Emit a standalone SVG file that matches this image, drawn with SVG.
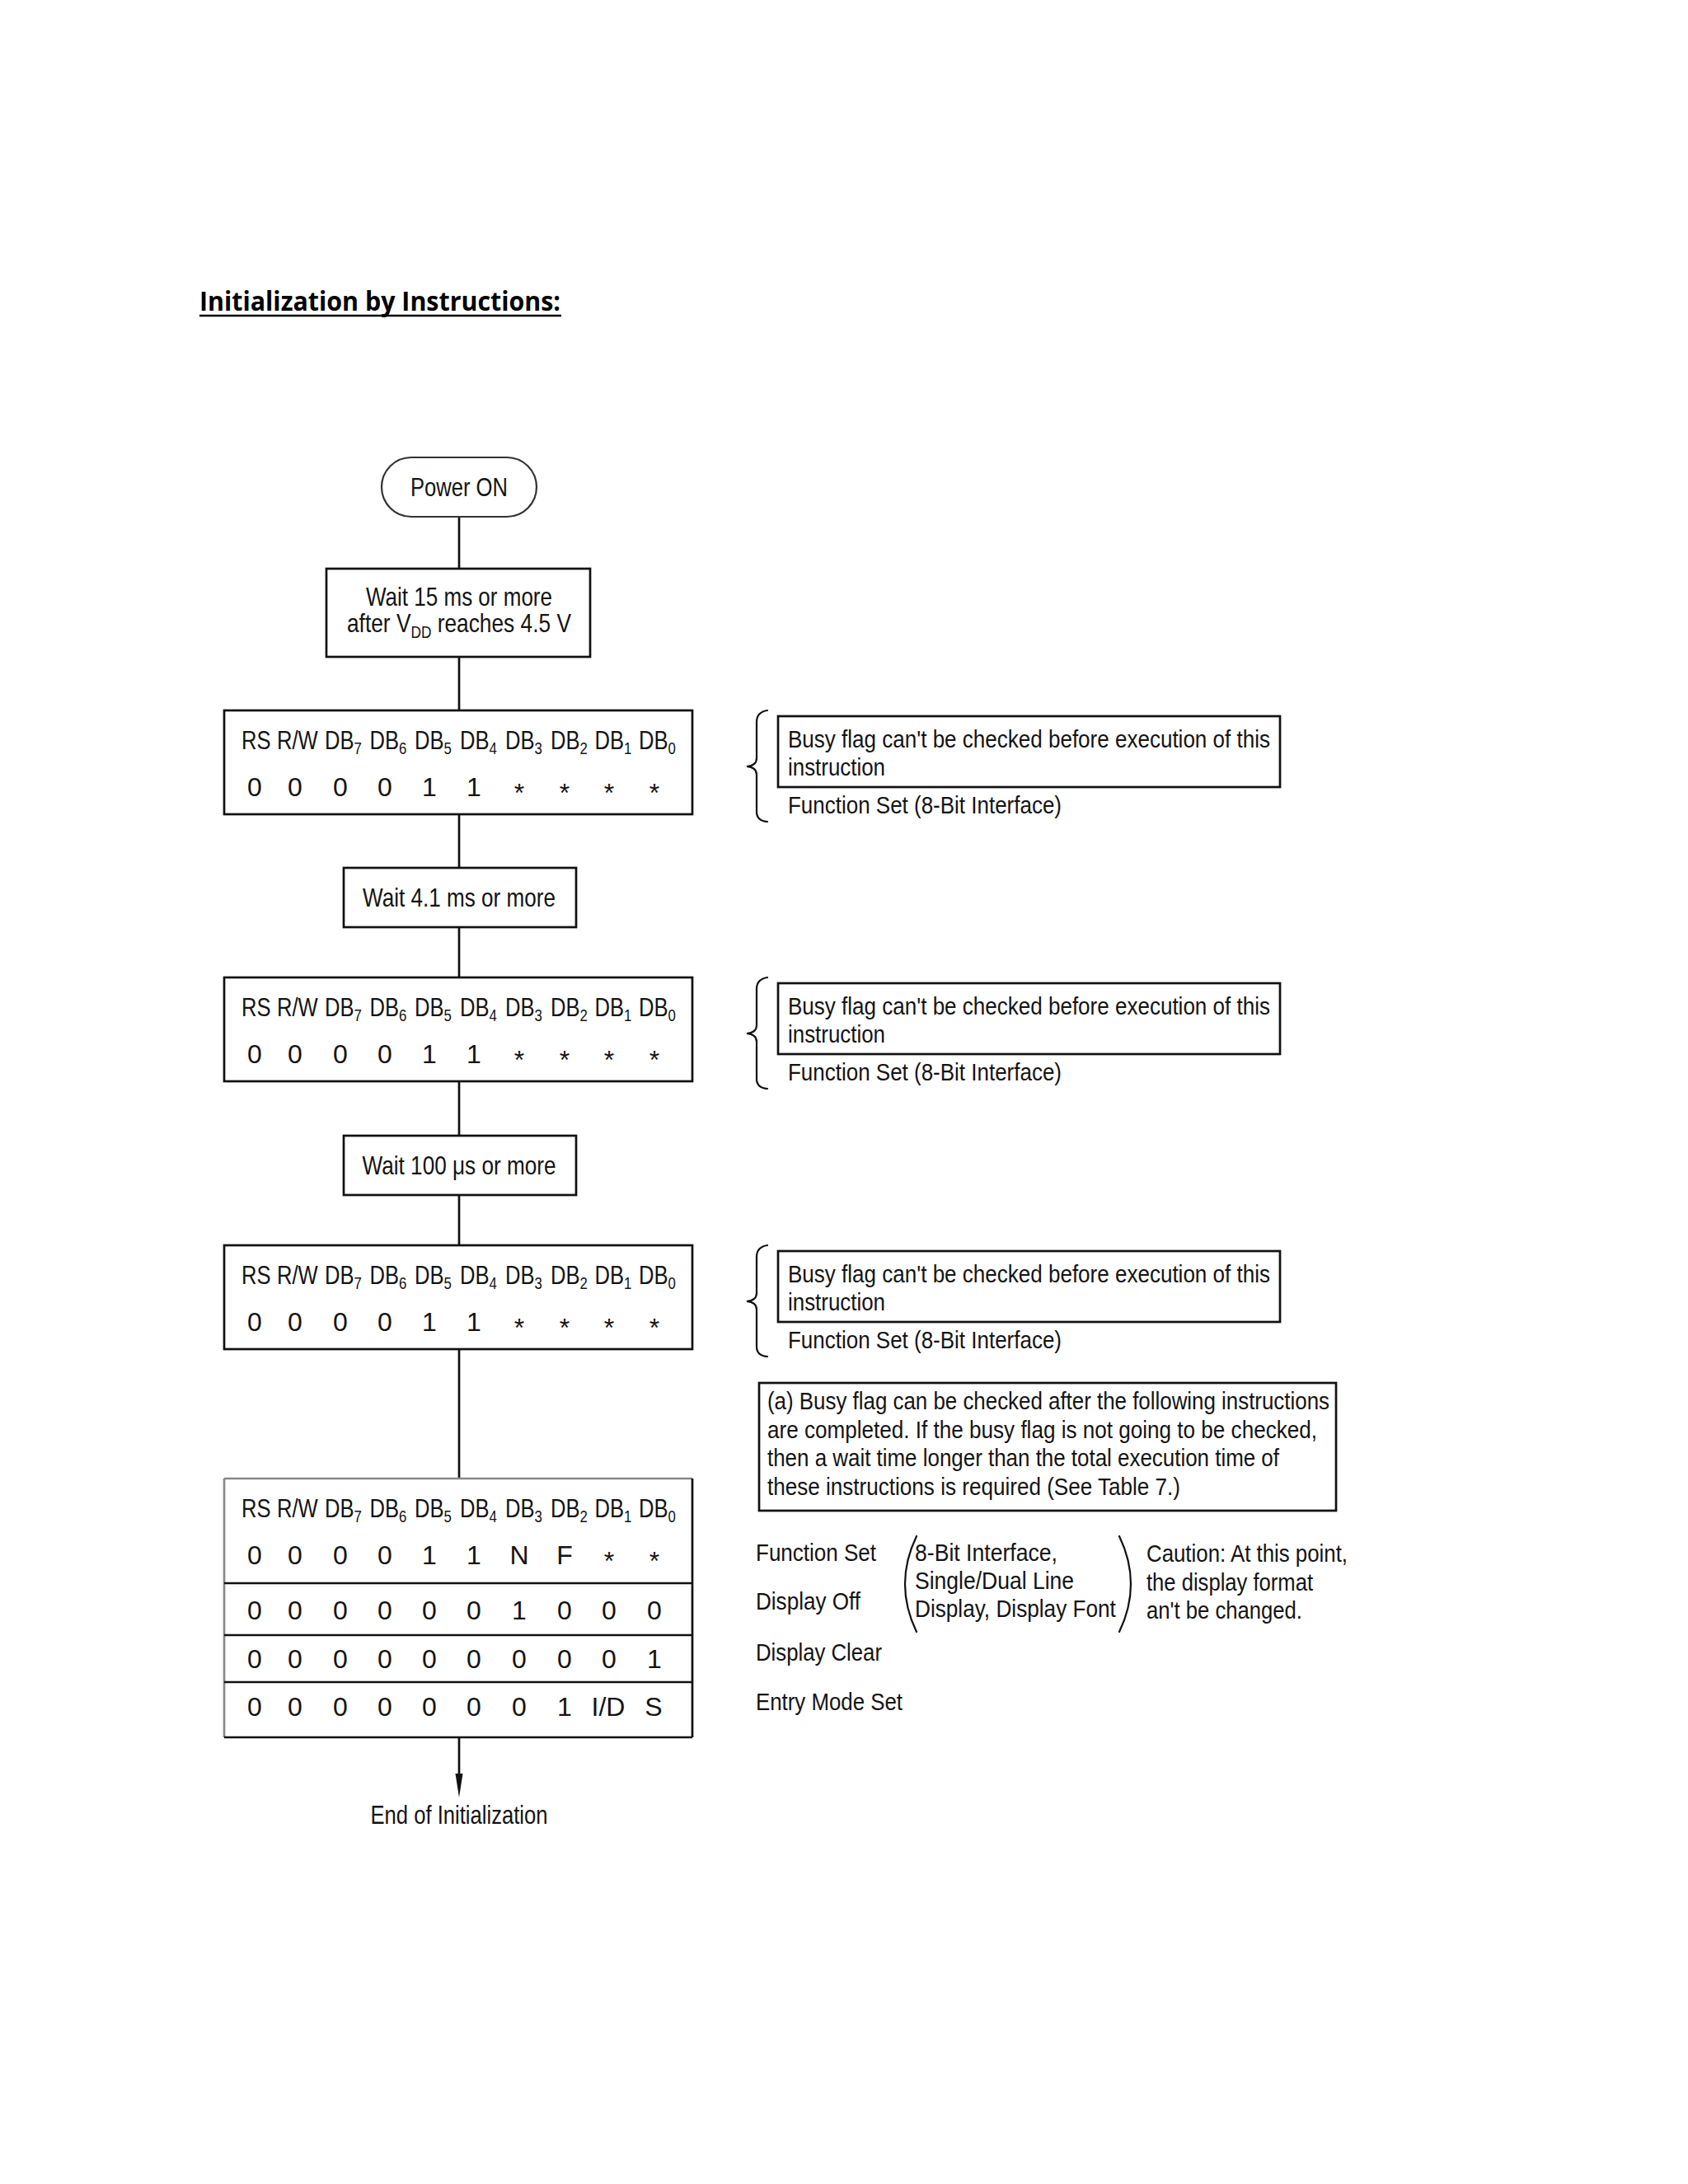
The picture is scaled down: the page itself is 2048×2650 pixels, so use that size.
<svg xmlns="http://www.w3.org/2000/svg" width="2048" height="2650" viewBox="0 0 2048 2650">
<style>
text{font-family:"Liberation Sans Narrow","Liberation Sans",Arial,sans-serif;fill:#141414}
.t{font-size:32px}
.a{font-size:30px}
.v{font-size:32px;text-anchor:middle}
.m{text-anchor:middle}
.sub{font-size:21px}
.box{fill:#fff;stroke:#111;stroke-width:2.7}
.ln{stroke:#111;stroke-width:2.7;fill:none}
.br{stroke:#111;stroke-width:2.2;fill:none;stroke-linecap:round}
.title{font-family:"Open Sans","Liberation Sans",Arial,sans-serif;font-weight:700;font-size:33px;fill:#000}
</style>
<rect width="2048" height="2650" fill="#fff"/>

<g id="title">
<text class="title" x="242" y="377" textLength="438" lengthAdjust="spacingAndGlyphs">Initialization by Instructions:</text>
<line x1="242" y1="383" x2="681" y2="383" stroke="#000" stroke-width="2.6"/>
</g>

<g id="connectors">
<line class="ln" x1="557" y1="627" x2="557" y2="690"/>
<line class="ln" x1="557" y1="797" x2="557" y2="862"/>
<line class="ln" x1="557" y1="988" x2="557" y2="1053"/>
<line class="ln" x1="557" y1="1125" x2="557" y2="1186"/>
<line class="ln" x1="557" y1="1312" x2="557" y2="1378"/>
<line class="ln" x1="557" y1="1450" x2="557" y2="1511"/>
<line class="ln" x1="557" y1="1637" x2="557" y2="1794"/>
<line class="ln" x1="557" y1="2108" x2="557" y2="2156"/>
<polygon points="552.5,2152 561.5,2152 557,2181" fill="#111"/>
</g>

<g id="power-on">
<rect x="463" y="555" width="188" height="72" rx="36" ry="36" fill="#fff" stroke="#333" stroke-width="2.2"/>
<text class="t m" x="557" y="602" textLength="118" lengthAdjust="spacingAndGlyphs">Power ON</text>
</g>

<g id="wait-15ms">
<rect class="box" x="396" y="690" width="320" height="107"/>
<text class="t m" x="557" y="735" textLength="226" lengthAdjust="spacingAndGlyphs">Wait 15 ms or more</text>
<text class="t" transform="translate(421,767) scale(0.822,1)" x="0" y="0">after V<tspan class="sub" dy="7">DD</tspan><tspan dy="-7"> reaches 4.5 V</tspan></text>
</g>

<g id="fs-1">
<rect class="box" x="272" y="862" width="568" height="126"/>
<g transform="translate(0,909) scale(0.8,1)">
<text class="t" x="366.25" y="0">RS</text>
<text class="t" x="420" y="0">R/W</text>
<text class="t" x="492.5" y="0">DB<tspan class="sub" dy="6">7</tspan></text>
<text class="t" x="560.6" y="0">DB<tspan class="sub" dy="6">6</tspan></text>
<text class="t" x="628.75" y="0">DB<tspan class="sub" dy="6">5</tspan></text>
<text class="t" x="697.5" y="0">DB<tspan class="sub" dy="6">4</tspan></text>
<text class="t" x="766.25" y="0">DB<tspan class="sub" dy="6">3</tspan></text>
<text class="t" x="835" y="0">DB<tspan class="sub" dy="6">2</tspan></text>
<text class="t" x="901.9" y="0">DB<tspan class="sub" dy="6">1</tspan></text>
<text class="t" x="968.75" y="0">DB<tspan class="sub" dy="6">0</tspan></text>
</g>
<text class="v" y="966"><tspan x="309">0</tspan><tspan x="358">0</tspan><tspan x="413">0</tspan><tspan x="467">0</tspan><tspan x="521">1</tspan><tspan x="575">1</tspan></text>
<text class="v" y="973"><tspan x="630">*</tspan><tspan x="685">*</tspan><tspan x="739">*</tspan><tspan x="794">*</tspan></text>
</g>

<g id="note-1">
<path class="br" d="M931 862 Q918 864 918 876 L918 920 Q918 929 906 930 Q918 931 918 940 L918 985 Q918 996 931 997"/>
<rect class="box" x="944" y="869" width="609" height="86"/>
<text class="a" x="956" y="907" textLength="585" lengthAdjust="spacingAndGlyphs">Busy flag can't be checked before execution of this</text>
<text class="a" x="956" y="941" textLength="118" lengthAdjust="spacingAndGlyphs">instruction</text>
<text class="a" x="956" y="987" textLength="332" lengthAdjust="spacingAndGlyphs">Function Set (8-Bit Interface)</text>
</g>

<g id="wait-4ms">
<rect class="box" x="417" y="1053" width="282" height="72"/>
<text class="t m" x="557" y="1100" textLength="234" lengthAdjust="spacingAndGlyphs">Wait 4.1 ms or more</text>
</g>

<g id="fs-2">
<rect class="box" x="272" y="1186" width="568" height="126"/>
<g transform="translate(0,1233) scale(0.8,1)">
<text class="t" x="366.25" y="0">RS</text>
<text class="t" x="420" y="0">R/W</text>
<text class="t" x="492.5" y="0">DB<tspan class="sub" dy="6">7</tspan></text>
<text class="t" x="560.6" y="0">DB<tspan class="sub" dy="6">6</tspan></text>
<text class="t" x="628.75" y="0">DB<tspan class="sub" dy="6">5</tspan></text>
<text class="t" x="697.5" y="0">DB<tspan class="sub" dy="6">4</tspan></text>
<text class="t" x="766.25" y="0">DB<tspan class="sub" dy="6">3</tspan></text>
<text class="t" x="835" y="0">DB<tspan class="sub" dy="6">2</tspan></text>
<text class="t" x="901.9" y="0">DB<tspan class="sub" dy="6">1</tspan></text>
<text class="t" x="968.75" y="0">DB<tspan class="sub" dy="6">0</tspan></text>
</g>
<text class="v" y="1290"><tspan x="309">0</tspan><tspan x="358">0</tspan><tspan x="413">0</tspan><tspan x="467">0</tspan><tspan x="521">1</tspan><tspan x="575">1</tspan></text>
<text class="v" y="1297"><tspan x="630">*</tspan><tspan x="685">*</tspan><tspan x="739">*</tspan><tspan x="794">*</tspan></text>
</g>

<g id="note-2">
<path class="br" d="M931 1186 Q918 1188 918 1200 L918 1244 Q918 1253 906 1254 Q918 1255 918 1264 L918 1309 Q918 1320 931 1321"/>
<rect class="box" x="944" y="1193" width="609" height="86"/>
<text class="a" x="956" y="1231" textLength="585" lengthAdjust="spacingAndGlyphs">Busy flag can't be checked before execution of this</text>
<text class="a" x="956" y="1265" textLength="118" lengthAdjust="spacingAndGlyphs">instruction</text>
<text class="a" x="956" y="1311" textLength="332" lengthAdjust="spacingAndGlyphs">Function Set (8-Bit Interface)</text>
</g>

<g id="wait-100us">
<rect class="box" x="417" y="1378" width="282" height="72"/>
<text class="t m" x="557" y="1425" textLength="235" lengthAdjust="spacingAndGlyphs">Wait 100 μs or more</text>
</g>

<g id="fs-3">
<rect class="box" x="272" y="1511" width="568" height="126"/>
<g transform="translate(0,1558) scale(0.8,1)">
<text class="t" x="366.25" y="0">RS</text>
<text class="t" x="420" y="0">R/W</text>
<text class="t" x="492.5" y="0">DB<tspan class="sub" dy="6">7</tspan></text>
<text class="t" x="560.6" y="0">DB<tspan class="sub" dy="6">6</tspan></text>
<text class="t" x="628.75" y="0">DB<tspan class="sub" dy="6">5</tspan></text>
<text class="t" x="697.5" y="0">DB<tspan class="sub" dy="6">4</tspan></text>
<text class="t" x="766.25" y="0">DB<tspan class="sub" dy="6">3</tspan></text>
<text class="t" x="835" y="0">DB<tspan class="sub" dy="6">2</tspan></text>
<text class="t" x="901.9" y="0">DB<tspan class="sub" dy="6">1</tspan></text>
<text class="t" x="968.75" y="0">DB<tspan class="sub" dy="6">0</tspan></text>
</g>
<text class="v" y="1615"><tspan x="309">0</tspan><tspan x="358">0</tspan><tspan x="413">0</tspan><tspan x="467">0</tspan><tspan x="521">1</tspan><tspan x="575">1</tspan></text>
<text class="v" y="1622"><tspan x="630">*</tspan><tspan x="685">*</tspan><tspan x="739">*</tspan><tspan x="794">*</tspan></text>
</g>

<g id="note-3">
<path class="br" d="M931 1511 Q918 1513 918 1525 L918 1569 Q918 1578 906 1579 Q918 1580 918 1589 L918 1634 Q918 1645 931 1646"/>
<rect class="box" x="944" y="1518" width="609" height="86"/>
<text class="a" x="956" y="1556" textLength="585" lengthAdjust="spacingAndGlyphs">Busy flag can't be checked before execution of this</text>
<text class="a" x="956" y="1590" textLength="118" lengthAdjust="spacingAndGlyphs">instruction</text>
<text class="a" x="956" y="1636" textLength="332" lengthAdjust="spacingAndGlyphs">Function Set (8-Bit Interface)</text>
</g>

<g id="note-4">
<rect class="box" x="921" y="1678" width="700" height="155"/>
<text class="a" x="931" y="1710" textLength="682" lengthAdjust="spacingAndGlyphs">(a) Busy flag can be checked after the following instructions</text>
<text class="a" x="931" y="1745" textLength="667" lengthAdjust="spacingAndGlyphs">are completed.  If the busy flag is not going to be checked,</text>
<text class="a" x="931" y="1779" textLength="621" lengthAdjust="spacingAndGlyphs">then a wait time longer than the total execution time of</text>
<text class="a" x="931" y="1814" textLength="501" lengthAdjust="spacingAndGlyphs">these instructions is required (See Table 7.)</text>
</g>

<g id="init-seq">
<rect fill="#fff" x="272" y="1794" width="568" height="314"/>
<line x1="272" y1="1794" x2="840" y2="1794" stroke="#888" stroke-width="2.7"/>
<line x1="272" y1="1794" x2="272" y2="2108" stroke="#888" stroke-width="2.7"/>
<line class="ln" x1="840" y1="1794" x2="840" y2="2108"/>
<line class="ln" x1="272" y1="2108" x2="840" y2="2108"/>
<line class="ln" x1="272" y1="1921" x2="840" y2="1921"/>
<line class="ln" x1="272" y1="1984" x2="840" y2="1984"/>
<line class="ln" x1="272" y1="2041" x2="840" y2="2041"/>
<g transform="translate(0,1841) scale(0.8,1)">
<text class="t" x="366.25" y="0">RS</text>
<text class="t" x="420" y="0">R/W</text>
<text class="t" x="492.5" y="0">DB<tspan class="sub" dy="6">7</tspan></text>
<text class="t" x="560.6" y="0">DB<tspan class="sub" dy="6">6</tspan></text>
<text class="t" x="628.75" y="0">DB<tspan class="sub" dy="6">5</tspan></text>
<text class="t" x="697.5" y="0">DB<tspan class="sub" dy="6">4</tspan></text>
<text class="t" x="766.25" y="0">DB<tspan class="sub" dy="6">3</tspan></text>
<text class="t" x="835" y="0">DB<tspan class="sub" dy="6">2</tspan></text>
<text class="t" x="901.9" y="0">DB<tspan class="sub" dy="6">1</tspan></text>
<text class="t" x="968.75" y="0">DB<tspan class="sub" dy="6">0</tspan></text>
</g>
<text class="v" y="1898"><tspan x="309">0</tspan><tspan x="358">0</tspan><tspan x="413">0</tspan><tspan x="467">0</tspan><tspan x="521">1</tspan><tspan x="575">1</tspan><tspan x="630">N</tspan><tspan x="685">F</tspan></text>
<text class="v" y="1905"><tspan x="739">*</tspan><tspan x="794">*</tspan></text>
<text class="v" y="1965"><tspan x="309">0</tspan><tspan x="358">0</tspan><tspan x="413">0</tspan><tspan x="467">0</tspan><tspan x="521">0</tspan><tspan x="575">0</tspan><tspan x="630">1</tspan><tspan x="685">0</tspan><tspan x="739">0</tspan><tspan x="794">0</tspan></text>
<text class="v" y="2024"><tspan x="309">0</tspan><tspan x="358">0</tspan><tspan x="413">0</tspan><tspan x="467">0</tspan><tspan x="521">0</tspan><tspan x="575">0</tspan><tspan x="630">0</tspan><tspan x="685">0</tspan><tspan x="739">0</tspan><tspan x="794">1</tspan></text>
<text class="v" y="2082"><tspan x="309">0</tspan><tspan x="358">0</tspan><tspan x="413">0</tspan><tspan x="467">0</tspan><tspan x="521">0</tspan><tspan x="575">0</tspan><tspan x="630">0</tspan><tspan x="685">1</tspan><tspan x="738">I/D</tspan><tspan x="793">S</tspan></text>
</g>

<g id="seq-labels">
<text class="a" x="917" y="1894" textLength="146" lengthAdjust="spacingAndGlyphs">Function Set</text>
<text class="a" x="917" y="1953" textLength="127" lengthAdjust="spacingAndGlyphs">Display Off</text>
<text class="a" x="917" y="2015" textLength="153" lengthAdjust="spacingAndGlyphs">Display Clear</text>
<text class="a" x="917" y="2075" textLength="178" lengthAdjust="spacingAndGlyphs">Entry Mode Set</text>
<path class="br" d="M1112 1864 Q1084 1922 1112 1980"/>
<text class="a" x="1110" y="1894" textLength="173" lengthAdjust="spacingAndGlyphs">8-Bit Interface,</text>
<text class="a" x="1110" y="1928" textLength="193" lengthAdjust="spacingAndGlyphs">Single/Dual Line</text>
<text class="a" transform="translate(1110,1962) scale(0.873,1)" x="0" y="0">Display, Display Font</text>
<path class="br" d="M1358 1864 Q1386 1922 1358 1980"/>
<text class="a" x="1391" y="1895" textLength="244" lengthAdjust="spacingAndGlyphs">Caution: At this point,</text>
<text class="a" x="1391" y="1930" textLength="202" lengthAdjust="spacingAndGlyphs">the display format</text>
<text class="a" x="1391" y="1964" textLength="189" lengthAdjust="spacingAndGlyphs">an't be changed.</text>
</g>

<g id="end">
<text class="t m" x="557" y="2213" textLength="215" lengthAdjust="spacingAndGlyphs">End of Initialization</text>
</g>
</svg>
